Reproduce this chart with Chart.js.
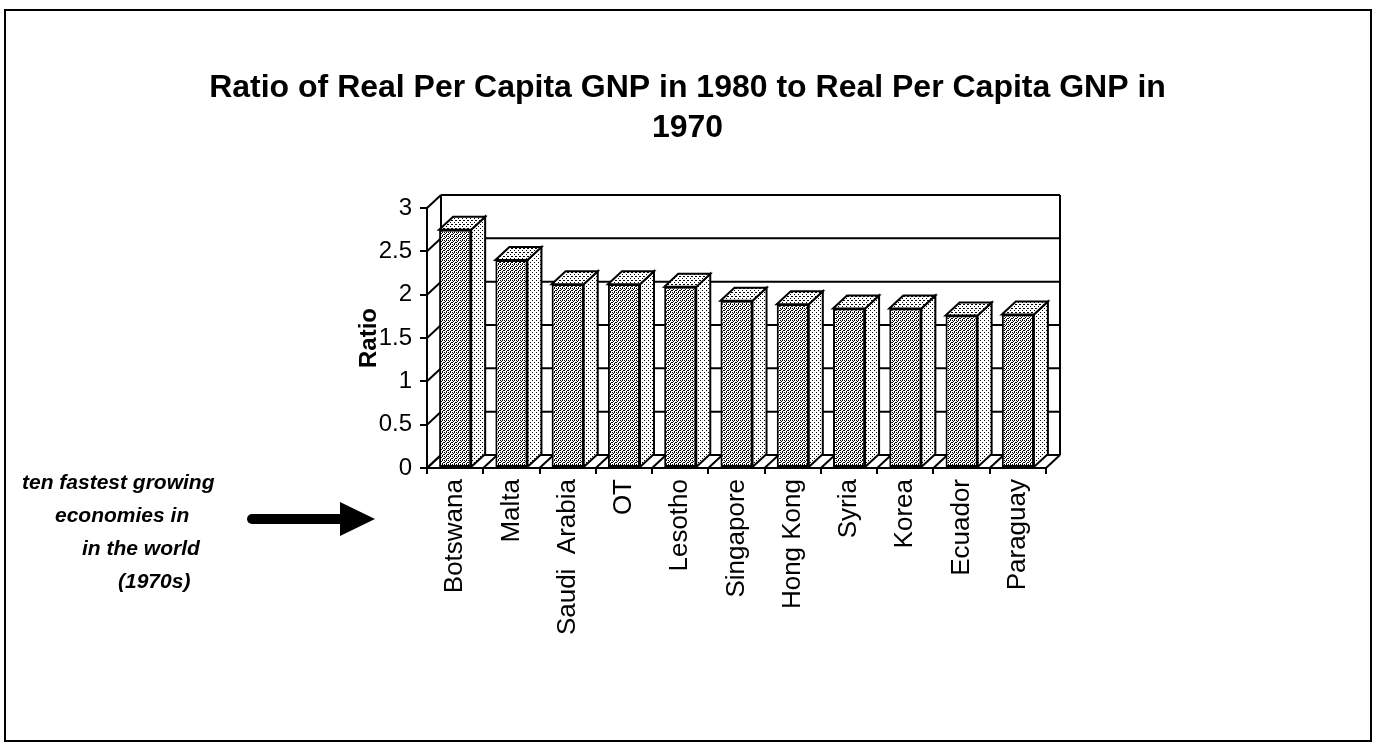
<!DOCTYPE html>
<html>
<head>
<meta charset="utf-8">
<script src="https://cdn.jsdelivr.net/npm/chart.js@4.4.1/dist/chart.umd.min.js"></script>
<style>
  html, body { margin: 0; padding: 0; background: #fff; }
  #wrap { position: relative; width: 1375px; height: 746px; }
</style>
</head>
<body>
<div id="wrap"><canvas id="gnp" width="1375" height="746"></canvas></div>
<script>
const countries = ['Botswana', 'Malta', 'Saudi  Arabia', 'OT', 'Lesotho', 'Singapore', 'Hong Kong', 'Syria', 'Korea', 'Ecuador', 'Paraguay'];
const ratios = [2.75, 2.40, 2.12, 2.12, 2.09, 1.93, 1.89, 1.84, 1.84, 1.76, 1.77];
const yTicks = [0, 0.5, 1, 1.5, 2, 2.5, 3];
const titleLines = ['Ratio of Real Per Capita GNP in 1980 to Real Per Capita GNP in', '1970'];
const noteLines = ['ten fastest growing', 'economies in', 'in the world', '(1970s)'];

const FONT = "'Liberation Sans', Arial, sans-serif";
const DX = 14, DY = 13; // depth of the 3d box

// stipple fills like the old printout
function dots(cells, size) {
  const c = document.createElement('canvas');
  c.width = c.height = size;
  const g = c.getContext('2d');
  g.fillStyle = '#fff';
  g.fillRect(0, 0, size, size);
  g.fillStyle = '#000';
  cells.forEach(([x, y]) => g.fillRect(x, y, 1, 1));
  return g.createPattern(c, 'repeat');
}
const frontFill = dots([[0, 0], [2, 0], [1, 1], [3, 2], [0, 2], [2, 3]], 4);
const topFill = dots([[0, 0], [2, 2], [3, 0]], 4);
const sideFill = dots([[0, 0], [2, 2]], 4);

function line(ctx, x1, y1, x2, y2) {
  ctx.beginPath();
  ctx.moveTo(x1, y1);
  ctx.lineTo(x2, y2);
  ctx.stroke();
}

const box3d = {
  id: 'box3d',
  beforeDraw(chart) {
    const ctx = chart.ctx;
    ctx.save();
    ctx.fillStyle = '#fff';
    ctx.fillRect(0, 0, chart.width, chart.height);
    ctx.strokeStyle = '#000';
    ctx.lineWidth = 2;
    ctx.strokeRect(5, 10, chart.width - 9, chart.height - 15);
    ctx.restore();
  },
  beforeDatasetsDraw(chart) {
    const ctx = chart.ctx;
    const { left, right, top, bottom } = chart.chartArea;
    const ys = chart.scales.y;
    ctx.save();
    ctx.strokeStyle = '#000';
    ctx.lineWidth = 2;
    yTicks.forEach(v => {
      const py = ys.getPixelForValue(v);
      line(ctx, left + DX, py - DY, right + DX, py - DY);
      line(ctx, left, py, left + DX, py - DY);
    });
    line(ctx, left + DX, top - DY, left + DX, bottom - DY);
    line(ctx, right + DX, top - DY, right + DX, bottom - DY);
    const step = (right - left) / countries.length;
    for (let i = 0; i <= countries.length; i++) {
      const bx = left + i * step;
      line(ctx, bx, bottom, bx + DX, bottom - DY);
    }
    ctx.restore();
  },
  afterDatasetsDraw(chart) {
    const ctx = chart.ctx;
    const meta = chart.getDatasetMeta(0);
    ctx.save();
    ctx.strokeStyle = '#000';
    ctx.lineWidth = 2;
    meta.data.forEach(bar => {
      const { x, y, base, width } = bar.getProps(['x', 'y', 'base', 'width'], true);
      const l = x - width / 2, r = x + width / 2;
      ctx.beginPath();
      ctx.moveTo(r, y);
      ctx.lineTo(r + DX, y - DY);
      ctx.lineTo(r + DX, base - DY);
      ctx.lineTo(r, base);
      ctx.closePath();
      ctx.fillStyle = sideFill;
      ctx.fill();
      ctx.stroke();
      ctx.beginPath();
      ctx.moveTo(l, y);
      ctx.lineTo(l + DX, y - DY);
      ctx.lineTo(r + DX, y - DY);
      ctx.lineTo(r, y);
      ctx.closePath();
      ctx.fillStyle = topFill;
      ctx.fill();
      ctx.stroke();
    });
    ctx.restore();
  },
  afterDraw(chart) {
    const ctx = chart.ctx;
    ctx.save();
    ctx.fillStyle = '#000';
    ctx.font = 'italic bold 21px ' + FONT;
    ctx.textBaseline = 'middle';
    const xs = [22, 55, 82, 118];
    const ys = [483, 516, 549, 582];
    noteLines.forEach((t, i) => ctx.fillText(t, xs[i], ys[i]));
    // arrow pointing at the bars
    ctx.lineCap = 'round';
    ctx.lineWidth = 10;
    line(ctx, 252, 519, 342, 519);
    ctx.beginPath();
    ctx.moveTo(340, 502);
    ctx.lineTo(375, 519);
    ctx.lineTo(340, 536);
    ctx.closePath();
    ctx.fill();
    ctx.restore();
  }
};

new Chart(document.getElementById('gnp'), {
  type: 'bar',
  data: {
    labels: countries,
    datasets: [{
      label: 'Ratio',
      data: ratios,
      backgroundColor: frontFill,
      borderColor: '#000',
      borderWidth: 2,
      borderSkipped: false,
      barPercentage: 0.57,
      categoryPercentage: 1.0
    }]
  },
  plugins: [box3d],
  options: {
    responsive: false,
    animation: false,
    events: [],
    layout: { padding: 0 },
    plugins: {
      legend: { display: false },
      tooltip: { enabled: false },
      title: {
        display: true,
        text: titleLines,
        color: '#000',
        font: { family: FONT, size: 32, weight: 'bold', lineHeight: 1.25 },
        padding: { top: 68, bottom: 60 }
      }
    },
    scales: {
      x: {
        afterFit: s => { s.height = 278; },
        grid: { offset: true, drawOnChartArea: false, drawTicks: true, tickLength: 6, color: '#000', lineWidth: 2 },
        border: { display: true, color: '#000', width: 2 },
        ticks: { color: '#000', font: { family: FONT, size: 26 }, minRotation: 90, maxRotation: 90, autoSkip: false, padding: 5 }
      },
      y: {
        min: 0,
        max: 3,
        afterBuildTicks: s => { s.ticks = yTicks.map(v => ({ value: v })); },
        afterFit: s => { s.width = 427; },
        grid: { drawOnChartArea: false, drawTicks: true, tickLength: 7, color: '#000', lineWidth: 2 },
        border: { display: true, color: '#000', width: 2 },
        ticks: { color: '#000', font: { family: FONT, size: 24 }, padding: 8, callback: v => String(v) },
        title: {
          display: true,
          text: 'Ratio',
          color: '#000',
          font: { family: FONT, size: 24, weight: 'bold' },
          padding: { top: 355, bottom: 0 }
        }
      },
      yRight: {
        type: 'linear',
        position: 'right',
        min: 0,
        max: 3,
        afterFit: s => { s.width = 329; },
        ticks: { display: false },
        grid: { display: false },
        border: { display: false }
      }
    }
  }
});
</script>
</body>
</html>
